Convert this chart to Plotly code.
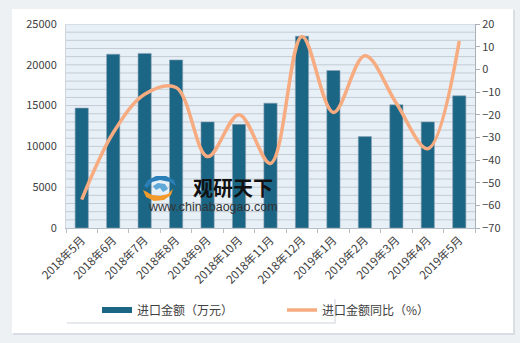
import plotly.graph_objects as go

months = ["2018年5月", "2018年6月", "2018年7月", "2018年8月", "2018年9月", "2018年10月",
          "2018年11月", "2018年12月", "2019年1月", "2019年2月", "2019年3月", "2019年4月", "2019年5月"]
import_amount = [14700, 21300, 21400, 20600, 13000, 12700, 15300, 23500, 19300, 11200, 15100, 13000, 16200]
yoy_pct = [-57.5, -28, -11, -8, -38.5, -20, -41.5, 14.5, -19, 6, -15, -35, 12.5]

BAR = "#1b6585"
LINE = "#f7ab80"
FONT = "Noto Sans CJK SC, Microsoft YaHei, sans-serif"

W, H = 520, 343
L, R, T, B = 66, 475, 24, 228


def px(x):
    return (x - L) / (R - L)


def py(y):
    return (B - y) / (B - T)


fig = go.Figure()
fig.add_trace(go.Bar(x=months, y=import_amount, marker=dict(color=BAR, line=dict(color="#8fa3b3", width=0.6)),
                     width=0.42, showlegend=False, name="进口金额（万元）"))
fig.add_trace(go.Scatter(x=[None], y=[None], mode="lines", line=dict(color=BAR, width=6),
                         name="进口金额（万元）"))
fig.add_trace(go.Scatter(x=months, y=yoy_pct, mode="lines", yaxis="y2",
                         line=dict(color=LINE, width=3.5, shape="spline", smoothing=1.0),
                         name="进口金额同比（%）"))

shapes = [
    dict(type="rect", xref="paper", yref="paper", x0=px(13), x1=px(515), y0=py(335), y1=py(10),
         fillcolor="#d9dee4", line=dict(width=0), layer="below"),
    dict(type="rect", xref="paper", yref="paper", x0=px(12), x1=px(513), y0=py(333), y1=py(9),
         fillcolor="white", line=dict(width=0), layer="below"),
    dict(type="rect", xref="paper", yref="paper", x0=0, x1=1, y0=0, y1=1,
         fillcolor="#e8f0f7", line=dict(width=0), layer="below"),
    dict(type="rect", xref="paper", yref="paper", x0=px(67), x1=px(336), y0=py(324), y1=py(299),
         fillcolor="#e6e9ed", line=dict(width=0), layer="below"),
    dict(type="rect", xref="paper", yref="paper", x0=px(66), x1=px(334), y0=py(322), y1=py(298),
         fillcolor="white", line=dict(width=0), layer="below"),
]


def path(points):
    return "M " + " L ".join(f"{px(x):.4f},{py(y):.4f}" for x, y in points) + " Z"


shapes.append(dict(type="path", xref="paper", yref="paper", layer="above",
                   path=path([(144, 186), (148, 180), (156, 176), (166, 176), (174, 180), (176, 186),
                              (170, 182), (160, 180), (152, 182), (147, 188)]),
                   fillcolor="#2b7fb8", line=dict(width=0)))
shapes.append(dict(type="path", xref="paper", yref="paper", layer="above",
                   path=path([(143, 190), (146, 197), (154, 201), (164, 200), (171, 195), (173, 189),
                              (168, 194), (160, 196), (152, 195), (147, 192)]),
                   fillcolor="#f39a2b", line=dict(width=0)))
shapes.append(dict(type="path", xref="paper", yref="paper", layer="above",
                   path=path([(153, 186), (158, 183), (165, 184), (168, 189), (163, 192), (160, 188), (156, 190)]),
                   fillcolor="#5fa8d8", line=dict(width=0)))

annotations = [
    dict(text="<b>观研天下</b>", xref="paper", yref="paper", x=px(233), y=py(187), showarrow=False,
         font=dict(family=FONT, size=20, color="#111111"), xanchor="center", yanchor="middle"),
    dict(text="www.chinabaogao.com", xref="paper", yref="paper", x=px(213), y=py(207), showarrow=False,
         font=dict(family="Liberation Sans, Arial, sans-serif", size=12.5, color="#333333"),
         xanchor="center", yanchor="middle"),
]

fig.update_layout(
    width=W, height=H,
    margin=dict(l=L, r=W - R, t=T, b=H - B, pad=0),
    paper_bgcolor="#eef1f4",
    plot_bgcolor="rgba(0,0,0,0)",
    font=dict(family=FONT, size=11, color="#404040"),
    bargap=0.58,
    shapes=shapes,
    annotations=annotations,
    xaxis=dict(tickangle=-45, tickfont=dict(size=11.5, color="#404040"), showline=True,
               linecolor="#b8bfc7", ticks="outside", ticklen=4, tickcolor="#b8bfc7",
               showgrid=False, tickson="boundaries"),
    yaxis=dict(range=[0, 25000], tickvals=[0, 5000, 10000, 15000, 20000, 25000],
               ticktext=["0", "5000", "10000", "15000", "20000", "25000"],
               showgrid=False, zeroline=False, showline=True, linecolor="#d0d6dc",
               tickfont=dict(size=11, color="#404040"), ticks="", ticklabelstandoff=6),
    yaxis2=dict(range=[-70, 20], dtick=10, overlaying="y", side="right", showgrid=False,
                zeroline=False, showline=True, linecolor="#a9b0b8", ticks="outside", ticklen=4,
                tickcolor="#a9b0b8", tickfont=dict(size=11, color="#404040")),
    legend=dict(orientation="h", x=px(97), y=py(310), xanchor="left", yanchor="middle",
                bgcolor="rgba(0,0,0,0)", font=dict(size=12, color="#404040"),
                entrywidth=140, entrywidthmode="pixels", itemwidth=30),
)

for v in range(1000, 25001, 1000):
    fig.add_shape(type="line", xref="paper", yref="y", x0=0, x1=1, y0=v, y1=v,
                  line=dict(color="#c4cbd3", width=1), layer="below")

fig.write_html("out.html")
